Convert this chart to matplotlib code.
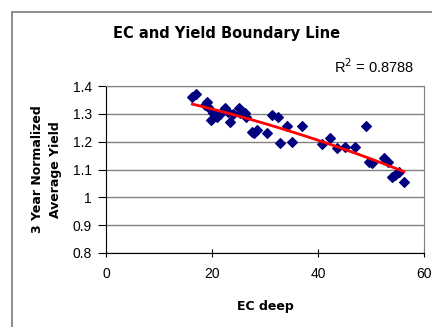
import numpy as np
import matplotlib
matplotlib.use("Agg")
import matplotlib.pyplot as plt
from matplotlib.patches import Rectangle

plt.rcParams['font.family'] = ['Liberation Sans', 'DejaVu Sans']

# values
ec_deep = [16.3, 17.0, 18.7, 19.0, 19.3, 19.9, 20.2, 20.9, 21.6, 22.5, 23.1, 23.4,
           23.9, 25.0, 25.3, 26.2, 26.5, 27.5, 27.9, 28.4, 30.3, 31.3, 32.5, 32.8,
           34.1, 35.0, 36.9, 40.7, 42.3, 43.5, 45.1, 47.0, 49.0, 49.6, 50.1, 52.4,
           53.3, 53.9, 54.5, 55.2, 56.2]
yield_norm = [1.36, 1.37, 1.332, 1.344, 1.326, 1.278, 1.302, 1.29, 1.30, 1.32, 1.308, 1.272,
              1.30, 1.32, 1.302, 1.302, 1.29, 1.236, 1.23, 1.242, 1.23, 1.296, 1.29, 1.194,
              1.256, 1.2, 1.256, 1.191, 1.212, 1.176, 1.18, 1.182, 1.256, 1.128, 1.124, 1.14,
              1.128, 1.074, 1.08, 1.092, 1.056]
r2_label = "R$^2$ = 0.8788"
x_ticks = [0, 20, 40, 60]
y_ticks = [0.8, 0.9, 1.0, 1.1, 1.2, 1.3, 1.4]
y_tick_labels = ["0.8", "0.9", "1", "1.1", "1.2", "1.3", "1.4"]

fig = plt.figure(figsize=(4.32, 3.27), dpi=100)
ax = fig.add_axes([0.2454, 0.2263, 0.7361, 0.5107])

# outer chart frame (cropped on the right and bottom)
fig.add_artist(Rectangle((12 / 432, -0.1), 1.0, 1 - 12 / 327 + 0.1,
                         transform=fig.transFigure, fill=False,
                         edgecolor="#8c8c8c", linewidth=1.4))

ax.scatter(ec_deep, yield_norm, marker="D", s=24, color="#00007f", zorder=3)

# 2nd order polynomial trendline
coef = np.polyfit(ec_deep, yield_norm, 2)
xs = np.linspace(min(ec_deep), max(ec_deep), 100)
ax.plot(xs, np.polyval(coef, xs), color="red", linewidth=2, zorder=4)

ax.set_xlim(0, 60)
ax.set_ylim(0.8, 1.4)
ax.set_xticks(x_ticks)
ax.set_yticks(y_ticks)
ax.set_yticklabels(y_tick_labels)
ax.yaxis.grid(True, color="#808080", linewidth=1)
ax.set_axisbelow(True)

for side in ["top", "right"]:
    ax.spines[side].set_color("#808080")
ax.spines["left"].set_color("black")
ax.spines["bottom"].set_color("black")
ax.tick_params(axis="y", direction="out", length=6, labelsize=10, pad=4)
ax.tick_params(axis="x", direction="inout", length=6, labelsize=10, pad=7)

bold = dict(family=["DejaVu Sans"], fontweight="bold")
ax.set_xlabel("EC deep", fontsize=9, labelpad=14, **bold)
ax.set_ylabel("3 Year Normalized\nAverage Yield", fontsize=9, labelpad=8,
              linespacing=1.45, **bold)

fig.text(0.525, 0.897, "EC and Yield Boundary Line", ha="center", va="center",
         fontsize=10.5, **bold)
fig.text(0.866, 0.795, r2_label, ha="center", va="center", fontsize=10.5)

fig.savefig("out.png", dpi=100)
